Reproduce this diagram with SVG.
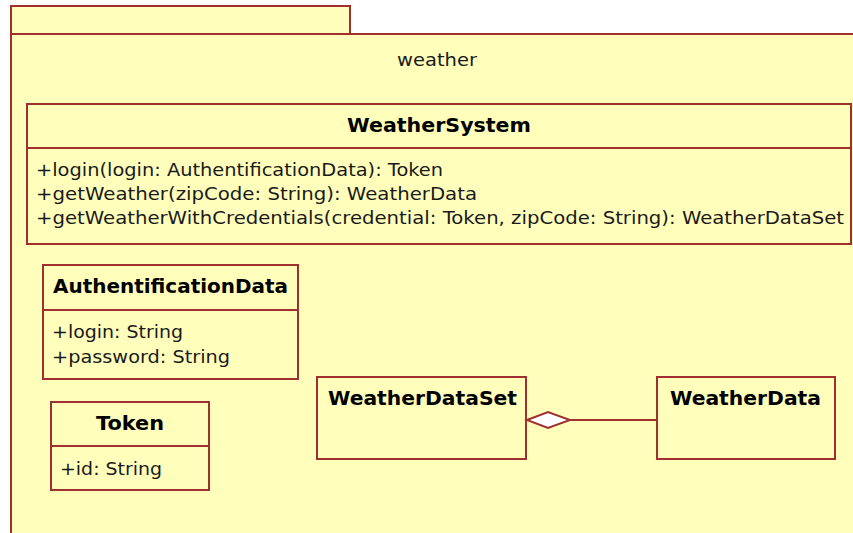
<svg xmlns="http://www.w3.org/2000/svg" width="853" height="533" viewBox="0 0 853 533">
<style>
.box{fill:#FFFFBB;stroke:#A03030;stroke-width:2}
.ln{stroke:#A03030;stroke-width:2;fill:none}
.t{font-family:"DejaVu Sans",Verdana,sans-serif;font-size:18px;fill:#1a1a1a}
.b{font-family:"DejaVu Sans",Verdana,sans-serif;font-size:19px;font-weight:bold;fill:#000}
</style>
<rect width="853" height="533" fill="#fff"/>
<g id="package">
<rect class="box" x="11" y="6" width="339" height="28"/>
<rect class="box" x="11" y="34" width="860" height="520"/>
<text class="t" x="397" y="66" textLength="80" lengthAdjust="spacingAndGlyphs">weather</text>
</g>
<g id="WeatherSystem">
<rect class="box" x="27" y="104" width="824" height="140"/>
<line class="ln" x1="27" y1="148" x2="851" y2="148"/>
<text class="b" x="347" y="132" textLength="184" lengthAdjust="spacingAndGlyphs">WeatherSystem</text>
<text class="t" x="36" y="176" textLength="407" lengthAdjust="spacingAndGlyphs">+login(login: AuthentificationData): Token</text>
<text class="t" x="36" y="200" textLength="441" lengthAdjust="spacingAndGlyphs">+getWeather(zipCode: String): WeatherData</text>
<text class="t" x="36" y="224" textLength="808" lengthAdjust="spacingAndGlyphs">+getWeatherWithCredentials(credential: Token, zipCode: String): WeatherDataSet</text>
</g>
<g id="AuthentificationData">
<rect class="box" x="43" y="265" width="255" height="114"/>
<line class="ln" x1="43" y1="310" x2="298" y2="310"/>
<text class="b" x="53" y="293" textLength="235" lengthAdjust="spacingAndGlyphs">AuthentificationData</text>
<text class="t" x="52" y="338" textLength="131" lengthAdjust="spacingAndGlyphs">+login: String</text>
<text class="t" x="52" y="363" textLength="178" lengthAdjust="spacingAndGlyphs">+password: String</text>
</g>
<g id="Token">
<rect class="box" x="51" y="402" width="158" height="88"/>
<line class="ln" x1="51" y1="446" x2="209" y2="446"/>
<text class="b" x="96" y="430" textLength="68" lengthAdjust="spacingAndGlyphs">Token</text>
<text class="t" x="60" y="475" textLength="102" lengthAdjust="spacingAndGlyphs">+id: String</text>
</g>
<g id="WeatherDataSet">
<rect class="box" x="317" y="377" width="209" height="82"/>
<text class="b" x="328" y="405" textLength="189" lengthAdjust="spacingAndGlyphs">WeatherDataSet</text>
</g>
<g id="WeatherData">
<rect class="box" x="657" y="377" width="178" height="82"/>
<text class="b" x="670" y="405" textLength="151" lengthAdjust="spacingAndGlyphs">WeatherData</text>
</g>
<g id="connectors">
<line class="ln" x1="570" y1="420" x2="657" y2="420"/>
<polygon points="527,420 548,412 570,420 548,428" fill="#fff" stroke="#A03030" stroke-width="2"/>
</g>
</svg>
